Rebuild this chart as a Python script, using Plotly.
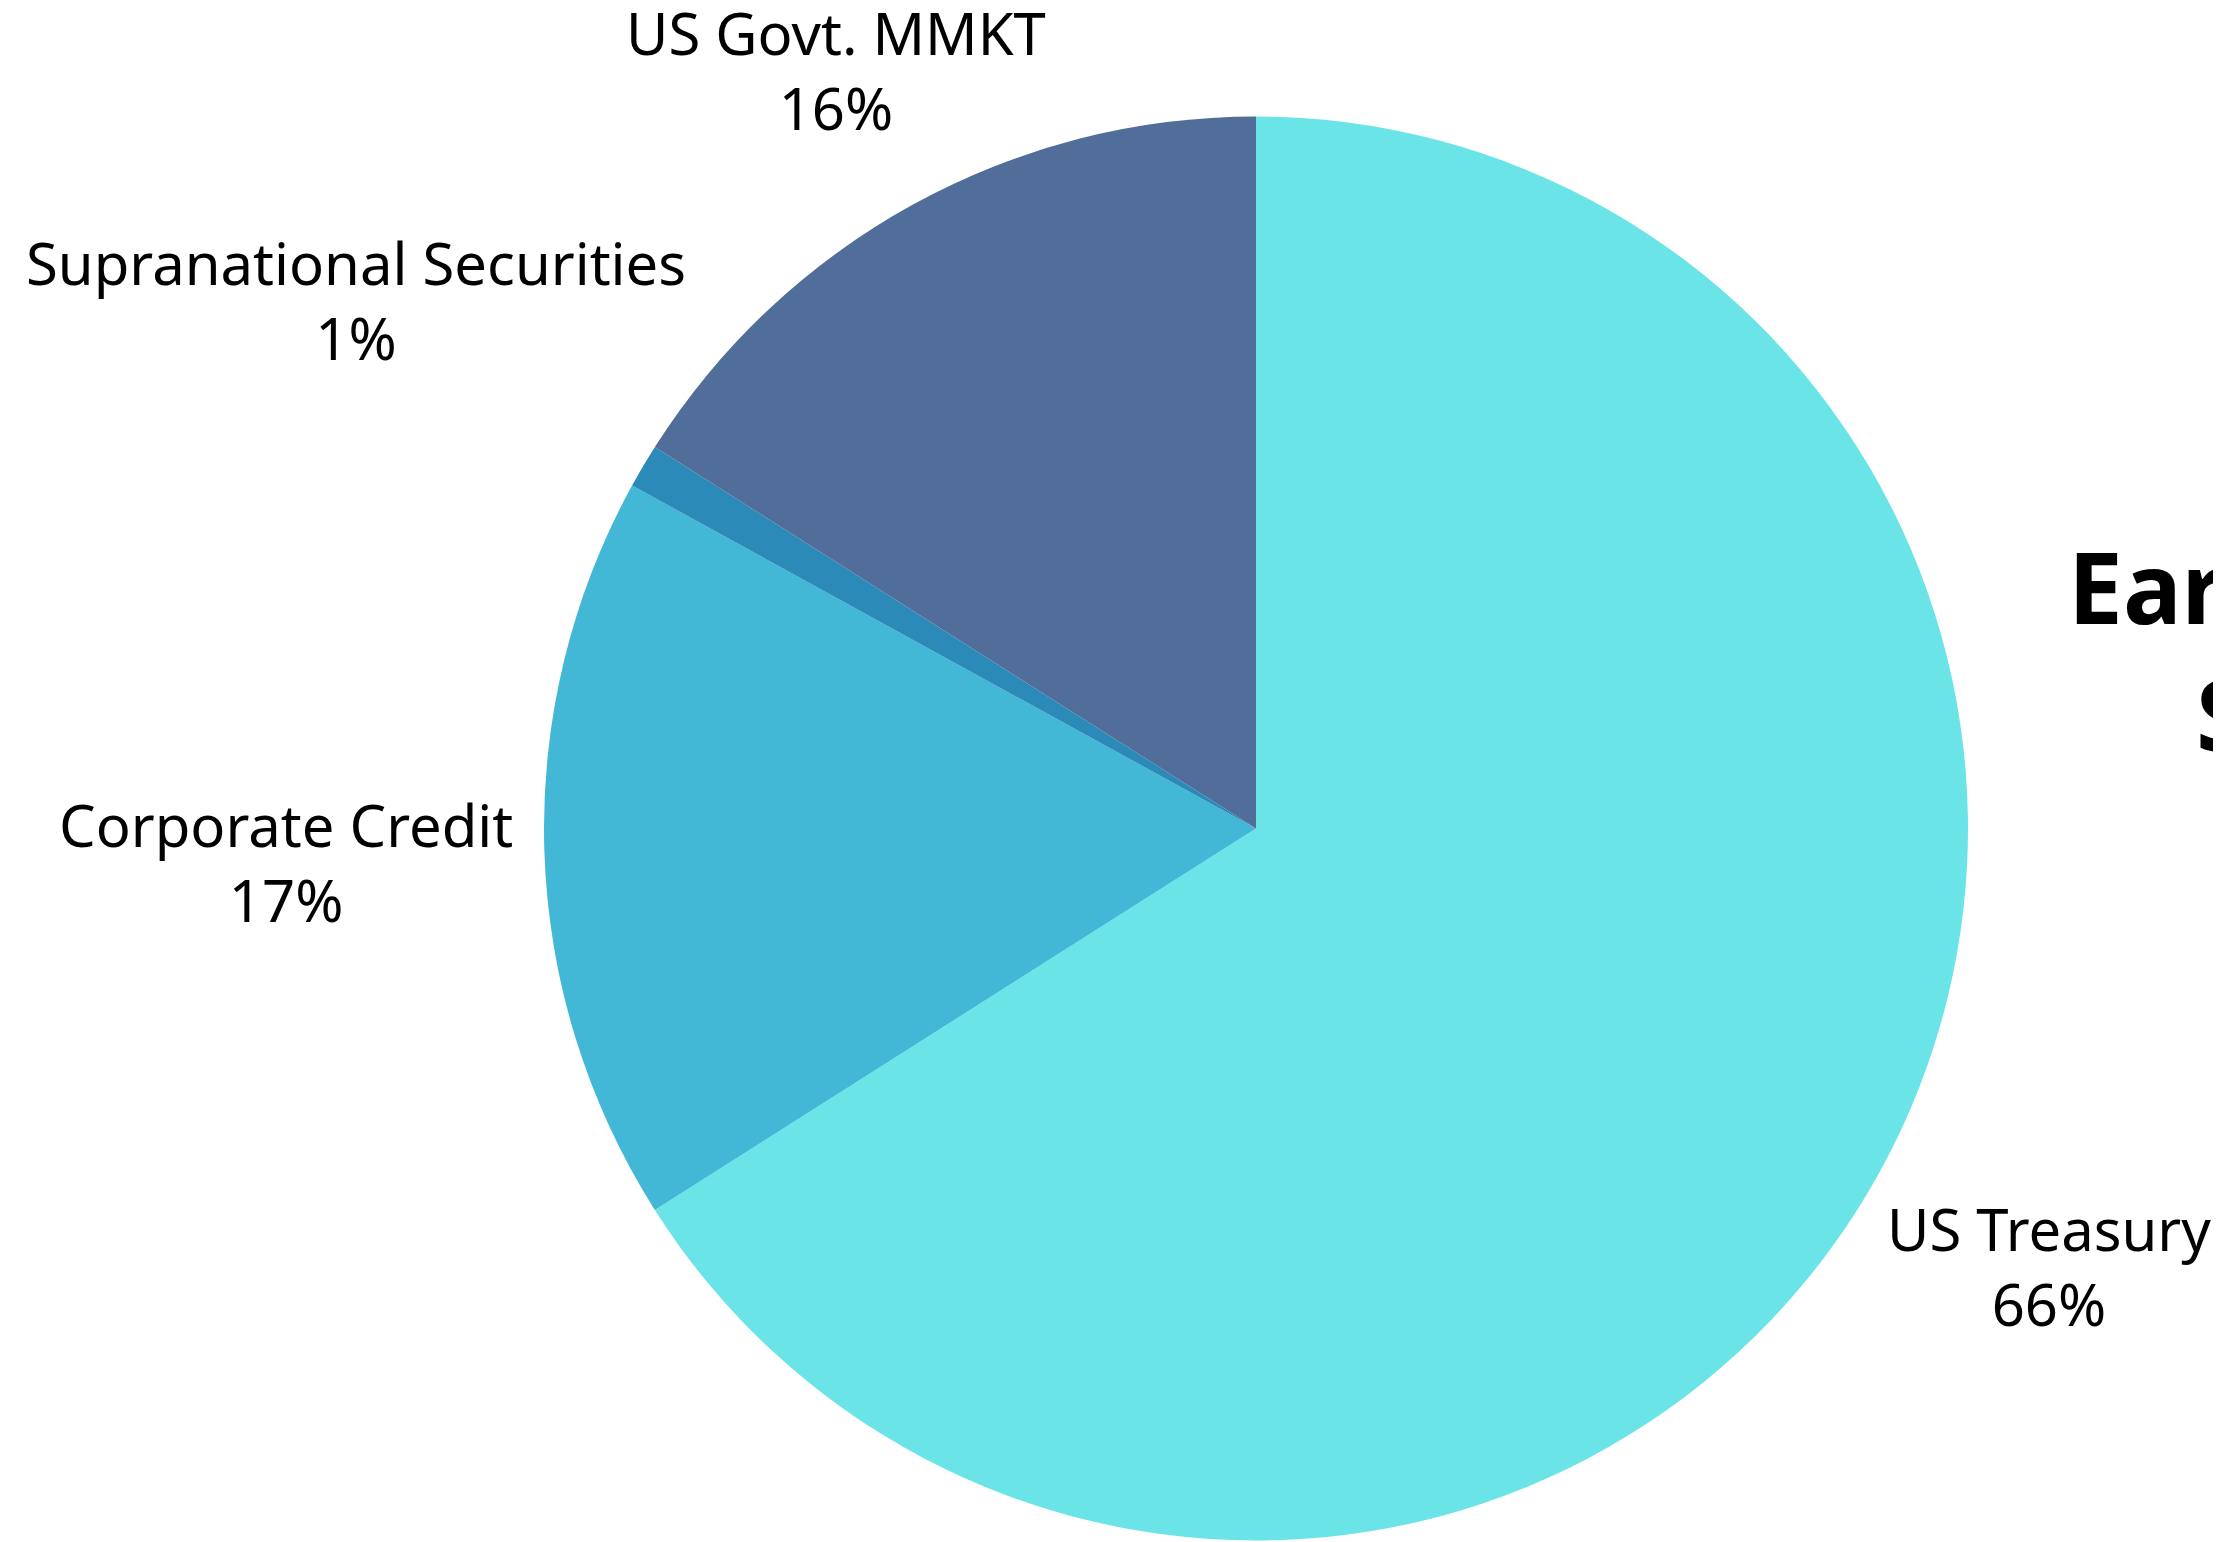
import plotly.graph_objects as go

labels = ["US Treasury", "Corporate Credit", "Supranational Securities", "US Govt. MMKT"]
values = [66, 17, 1, 16]
colors = ["#6BE4E8", "#42B7D6", "#2B8AB8", "#506E99"]
title_text = "Earnings by<br>Sector"

# label text positions (page pixels, centre of the two-line block)
label_pos = [(2049, 1266), (286, 862), (356, 300), (836, 70)]

W, H = 2221, 1542
OFF = 8  # page body margin
cx, cy, r = 1256 - OFF, 828.5 - OFF, 712

fig = go.Figure(go.Pie(
    labels=labels,
    values=values,
    sort=False,
    direction="clockwise",
    rotation=0,
    marker=dict(colors=colors, line=dict(width=0)),
    textinfo="none",
    showlegend=False,
    hoverinfo="skip",
    domain=dict(x=[(cx - r) / W, (cx + r) / W],
                y=[(H - cy - r) / H, (H - cy + r) / H]),
))

total = sum(values)
for lab, val, (px, py) in zip(labels, values, label_pos):
    fig.add_annotation(
        text=f"{lab}<br>{round(100 * val / total)}%",
        xref="paper", yref="paper",
        x=(px - OFF) / W, y=1 - (py - OFF) / H,
        xanchor="center", yanchor="middle", align="center",
        showarrow=False,
        font=dict(family="Noto Sans", size=58, color="#000000"),
    )

fig.add_annotation(
    text=title_text, xref="paper", yref="paper",
    x=2058 / W, y=1 - 509 / H, xanchor="left", yanchor="top",
    align="center", showarrow=False,
    font=dict(family="Noto Sans", size=98, color="#000000", weight="bold"),
)

fig.update_layout(
    width=W, height=H,
    margin=dict(l=0, r=0, t=0, b=0),
    paper_bgcolor="white", plot_bgcolor="white",
)
fig.write_html("out.html")
